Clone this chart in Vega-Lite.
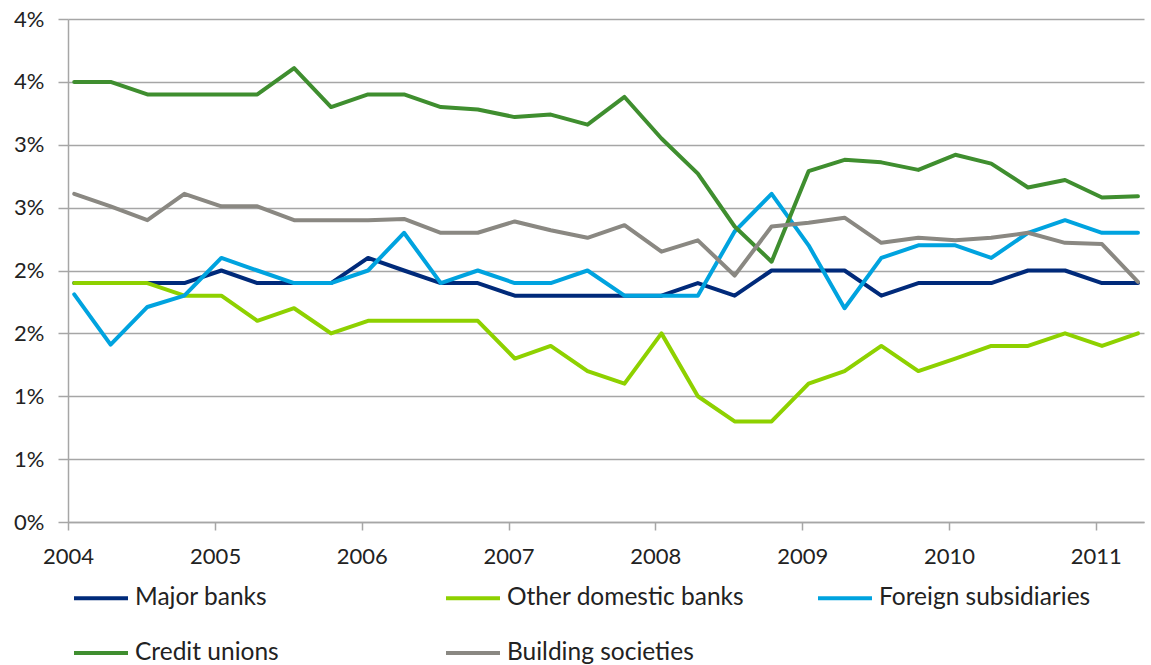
{
  "$schema": "https://vega.github.io/schema/vega-lite/v6.json",
  "width": 1076,
  "height": 503,
  "autosize": {"type": "none"},
  "padding": {"left": 68, "top": 19, "right": 7, "bottom": 143},
  "background": "white",
  "config": {
    "view": {"stroke": null},
    "font": "Lato"
  },
  "data": {
    "values": [
      {"date": "2004-01", "Major banks": 1.9, "Other domestic banks": 1.9, "Foreign subsidiaries": 1.81, "Credit unions": 3.5, "Building societies": 2.61},
      {"date": "2004-04", "Major banks": 1.9, "Other domestic banks": 1.9, "Foreign subsidiaries": 1.41, "Credit unions": 3.5, "Building societies": 2.51},
      {"date": "2004-07", "Major banks": 1.9, "Other domestic banks": 1.9, "Foreign subsidiaries": 1.71, "Credit unions": 3.4, "Building societies": 2.4},
      {"date": "2004-10", "Major banks": 1.9, "Other domestic banks": 1.8, "Foreign subsidiaries": 1.8, "Credit unions": 3.4, "Building societies": 2.61},
      {"date": "2005-01", "Major banks": 2.0, "Other domestic banks": 1.8, "Foreign subsidiaries": 2.1, "Credit unions": 3.4, "Building societies": 2.51},
      {"date": "2005-04", "Major banks": 1.9, "Other domestic banks": 1.6, "Foreign subsidiaries": 2.0, "Credit unions": 3.4, "Building societies": 2.51},
      {"date": "2005-07", "Major banks": 1.9, "Other domestic banks": 1.7, "Foreign subsidiaries": 1.9, "Credit unions": 3.61, "Building societies": 2.4},
      {"date": "2005-10", "Major banks": 1.9, "Other domestic banks": 1.5, "Foreign subsidiaries": 1.9, "Credit unions": 3.3, "Building societies": 2.4},
      {"date": "2006-01", "Major banks": 2.1, "Other domestic banks": 1.6, "Foreign subsidiaries": 2.0, "Credit unions": 3.4, "Building societies": 2.4},
      {"date": "2006-04", "Major banks": 2.0, "Other domestic banks": 1.6, "Foreign subsidiaries": 2.3, "Credit unions": 3.4, "Building societies": 2.41},
      {"date": "2006-07", "Major banks": 1.9, "Other domestic banks": 1.6, "Foreign subsidiaries": 1.9, "Credit unions": 3.3, "Building societies": 2.3},
      {"date": "2006-10", "Major banks": 1.9, "Other domestic banks": 1.6, "Foreign subsidiaries": 2.0, "Credit unions": 3.28, "Building societies": 2.3},
      {"date": "2007-01", "Major banks": 1.8, "Other domestic banks": 1.3, "Foreign subsidiaries": 1.9, "Credit unions": 3.22, "Building societies": 2.39},
      {"date": "2007-04", "Major banks": 1.8, "Other domestic banks": 1.4, "Foreign subsidiaries": 1.9, "Credit unions": 3.24, "Building societies": 2.32},
      {"date": "2007-07", "Major banks": 1.8, "Other domestic banks": 1.2, "Foreign subsidiaries": 2.0, "Credit unions": 3.16, "Building societies": 2.26},
      {"date": "2007-10", "Major banks": 1.8, "Other domestic banks": 1.1, "Foreign subsidiaries": 1.8, "Credit unions": 3.38, "Building societies": 2.36},
      {"date": "2008-01", "Major banks": 1.8, "Other domestic banks": 1.5, "Foreign subsidiaries": 1.8, "Credit unions": 3.05, "Building societies": 2.15},
      {"date": "2008-04", "Major banks": 1.9, "Other domestic banks": 1.0, "Foreign subsidiaries": 1.8, "Credit unions": 2.77, "Building societies": 2.24},
      {"date": "2008-07", "Major banks": 1.8, "Other domestic banks": 0.8, "Foreign subsidiaries": 2.31, "Credit unions": 2.35, "Building societies": 1.96},
      {"date": "2008-10", "Major banks": 2.0, "Other domestic banks": 0.8, "Foreign subsidiaries": 2.61, "Credit unions": 2.07, "Building societies": 2.35},
      {"date": "2009-01", "Major banks": 2.0, "Other domestic banks": 1.1, "Foreign subsidiaries": 2.2, "Credit unions": 2.79, "Building societies": 2.38},
      {"date": "2009-04", "Major banks": 2.0, "Other domestic banks": 1.2, "Foreign subsidiaries": 1.7, "Credit unions": 2.88, "Building societies": 2.42},
      {"date": "2009-07", "Major banks": 1.8, "Other domestic banks": 1.4, "Foreign subsidiaries": 2.1, "Credit unions": 2.86, "Building societies": 2.22},
      {"date": "2009-10", "Major banks": 1.9, "Other domestic banks": 1.2, "Foreign subsidiaries": 2.2, "Credit unions": 2.8, "Building societies": 2.26},
      {"date": "2010-01", "Major banks": 1.9, "Other domestic banks": 1.3, "Foreign subsidiaries": 2.2, "Credit unions": 2.92, "Building societies": 2.24},
      {"date": "2010-04", "Major banks": 1.9, "Other domestic banks": 1.4, "Foreign subsidiaries": 2.1, "Credit unions": 2.85, "Building societies": 2.26},
      {"date": "2010-07", "Major banks": 2.0, "Other domestic banks": 1.4, "Foreign subsidiaries": 2.3, "Credit unions": 2.66, "Building societies": 2.3},
      {"date": "2010-10", "Major banks": 2.0, "Other domestic banks": 1.5, "Foreign subsidiaries": 2.4, "Credit unions": 2.72, "Building societies": 2.22},
      {"date": "2011-01", "Major banks": 1.9, "Other domestic banks": 1.4, "Foreign subsidiaries": 2.3, "Credit unions": 2.58, "Building societies": 2.21},
      {"date": "2011-04", "Major banks": 1.9, "Other domestic banks": 1.5, "Foreign subsidiaries": 2.3, "Credit unions": 2.59, "Building societies": 1.91}
    ]
  },
  "transform": [
    {"fold": ["Major banks", "Other domestic banks", "Foreign subsidiaries", "Credit unions", "Building societies"], "as": ["series", "value"]}
  ],
  "mark": {"type": "line", "strokeWidth": 4, "strokeJoin": "round", "strokeCap": "round"},
  "encoding": {
    "x": {
      "field": "date",
      "type": "temporal",
      "timeUnit": "utcyearmonth",
      "bandPosition": 0.5,
      "scale": {
        "type": "utc",
        "domain": [
          {"year": 2004, "month": "jan", "date": 1, "utc": true},
          {"year": 2011, "month": "may", "date": 1, "utc": true}
        ]
      },
      "axis": {
        "title": null,
        "grid": false,
        "values": [
          {"year": 2004, "month": "jan", "date": 1, "utc": true},
          {"year": 2005, "month": "jan", "date": 1, "utc": true},
          {"year": 2006, "month": "jan", "date": 1, "utc": true},
          {"year": 2007, "month": "jan", "date": 1, "utc": true},
          {"year": 2008, "month": "jan", "date": 1, "utc": true},
          {"year": 2009, "month": "jan", "date": 1, "utc": true},
          {"year": 2010, "month": "jan", "date": 1, "utc": true},
          {"year": 2011, "month": "jan", "date": 1, "utc": true}
        ],
        "labelExpr": "utcFormat(datum.value, '%Y')",
        "domain": true,
        "domainColor": "#A6A6A6",
        "domainWidth": 1.5,
        "ticks": true,
        "tickColor": "#A6A6A6",
        "tickWidth": 1.5,
        "tickSize": 8,
        "labelPadding": 16,
        "labelFont": "Lato",
        "labelFontSize": 22,
        "labelColor": "#222222",
        "labelFlush": false,
        "labelOverlap": false
      }
    },
    "y": {
      "field": "value",
      "type": "quantitative",
      "scale": {"domain": [0, 4], "nice": false, "zero": true},
      "axis": {
        "title": null,
        "values": [0, 0.5, 1, 1.5, 2, 2.5, 3, 3.5, 4],
        "labelExpr": "format(datum.value, '.0f') + '%'",
        "grid": true,
        "gridColor": "#A6A6A6",
        "gridWidth": 1.5,
        "domain": true,
        "domainColor": "#A6A6A6",
        "domainWidth": 1.5,
        "ticks": true,
        "tickColor": "#A6A6A6",
        "tickWidth": 1.5,
        "tickSize": 10,
        "labelPadding": 14,
        "labelFont": "Lato",
        "labelFontSize": 22,
        "labelColor": "#222222",
        "labelOverlap": false
      }
    },
    "color": {
      "field": "series",
      "type": "nominal",
      "scale": {
        "domain": ["Major banks", "Other domestic banks", "Foreign subsidiaries", "Credit unions", "Building societies"],
        "range": ["#002A7A", "#8ED100", "#00A3DF", "#3F8E2F", "#8A8882"]
      },
      "legend": {
        "title": null,
        "orient": "none",
        "legendX": 4,
        "legendY": 550,
        "direction": "horizontal",
        "columns": 3,
        "gridAlign": "all",
        "columnPadding": 65,
        "rowPadding": 14,
        "padding": 0,
        "symbolType": "stroke",
        "symbolSize": 2916,
        "symbolStrokeWidth": 4,
        "labelOffset": 5,
        "labelFont": "Lato",
        "labelFontSize": 24.5,
        "labelColor": "#222222",
        "labelLimit": 400
      }
    }
  }
}
